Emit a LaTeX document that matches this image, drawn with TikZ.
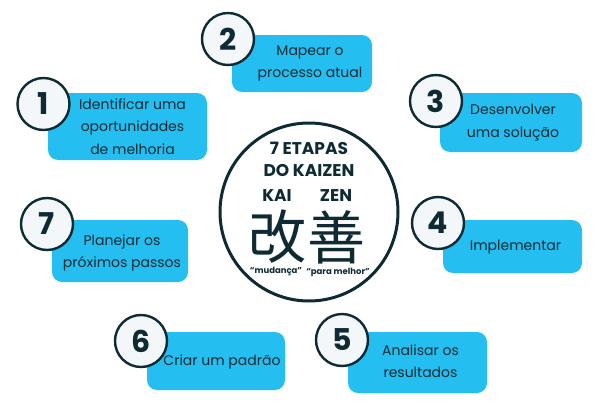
\documentclass[tikz,border=0pt]{standalone}
\usepackage{fontspec}
\setmainfont{Poppins}
\newfontfamily\cjk{Noto Sans CJK JP}
\usepackage{tikz}
\usetikzlibrary{calc, positioning}
\usepackage{xcolor}
\definecolor{kzCyan}{RGB}{36, 191, 240}
\definecolor{kzDark}{RGB}{14, 42, 51}
\definecolor{kzPale}{RGB}{244, 247, 250}

\tikzset{
  stepbox/.style={fill=kzCyan, rounded corners=10pt, inner sep=0pt},
  steptext/.style={align=center, text=kzDark, font=\fontsize{14}{22.5}\selectfont},
  stepnum/.style={circle, draw=kzDark, line width=2.4pt, fill=kzPale, minimum size=52pt,
    inner sep=0pt, text=kzDark, font=\fontsize{30}{30}\selectfont\bfseries},
  kaititle/.style={align=center, text=kzDark, inner sep=1pt, font=\fontsize{17}{22}\selectfont\bfseries},
  kanji/.style={text=kzDark, inner sep=0pt, font=\fontsize{58}{58}\selectfont\cjk},
  meaning/.style={text=kzDark, inner sep=0pt, font=\fontsize{8.5}{9}\selectfont\bfseries}
}

\begin{document}
\begin{tikzpicture}[x=1pt, y=-1pt]
  \useasboundingbox (0,0) rectangle (598,407);

  % central circle
  \node[circle, draw=kzDark, line width=3pt, minimum size=178pt, inner sep=0pt] (core) at (309,212) {};
  \node[kaititle] (title) at (309,159) {7 ETAPAS\\DO KAIZEN};
  \node[kaititle] (kai) at (277,196) {KAI};
  \node[kaititle] (zen) at (336,196) {ZEN};
  \node[kanji] (kaiJ) at (277,237) {改};
  \node[kanji] (zenJ) at (336,237) {善};
  \node[meaning] (kaiM) at (276,272) {“mudança”};
  \node[meaning] (zenM) at (338,272) {“para melhor”};

  % steps: boxes
  \node[stepbox, minimum width=159pt, minimum height=67pt] (b1) at (127.5,126.5) {};
  \node[stepbox, minimum width=140pt, minimum height=57pt] (b2) at (302,63.5) {};
  \node[stepbox, minimum width=142pt, minimum height=59pt] (b3) at (511,122.5) {};
  \node[stepbox, minimum width=139pt, minimum height=53pt] (b4) at (512.5,246.5) {};
  \node[stepbox, minimum width=139pt, minimum height=61pt] (b5) at (417.5,362.5) {};
  \node[stepbox, minimum width=138pt, minimum height=58pt] (b6) at (216,361) {};
  \node[stepbox, minimum width=136pt, minimum height=62pt] (b7) at (120,251) {};

  % steps: texts
  \node[steptext] (t1) at ([xshift=5pt]b1.center) {Identificar uma\\oportunidades\\de melhoria};
  \node[steptext] (t2) at ([xshift=8pt]b2.center) {Mapear o\\processo atual};
  \node[steptext] (t3) at ([xshift=2pt]b3.center) {Desenvolver\\uma solução};
  \node[steptext] (t4) at ([xshift=3pt,yshift=-1pt]b4.center) {Implementar};
  \node[steptext] (t5) at ([xshift=3pt,yshift=1.5pt]b5.center) {Analisar os\\resultados};
  \node[steptext] (t6) at ([xshift=6pt,yshift=-1pt]b6.center) {Criar um padrão};
  \node[steptext] (t7) at ([xshift=2pt,yshift=-2pt]b7.center) {Planejar os\\próximos passos};

  % steps: numbers
  \node[stepnum] (n1) at (43.5,104) {1};
  \node[stepnum] (n2) at (228,39) {2};
  \node[stepnum] (n3) at (436,101) {3};
  \node[stepnum] (n4) at (438,223) {4};
  \node[stepnum] (n5) at (342,340) {5};
  \node[stepnum] (n6) at (141,341) {6};
  \node[stepnum] (n7) at (47,224) {7};
\end{tikzpicture}
\end{document}
